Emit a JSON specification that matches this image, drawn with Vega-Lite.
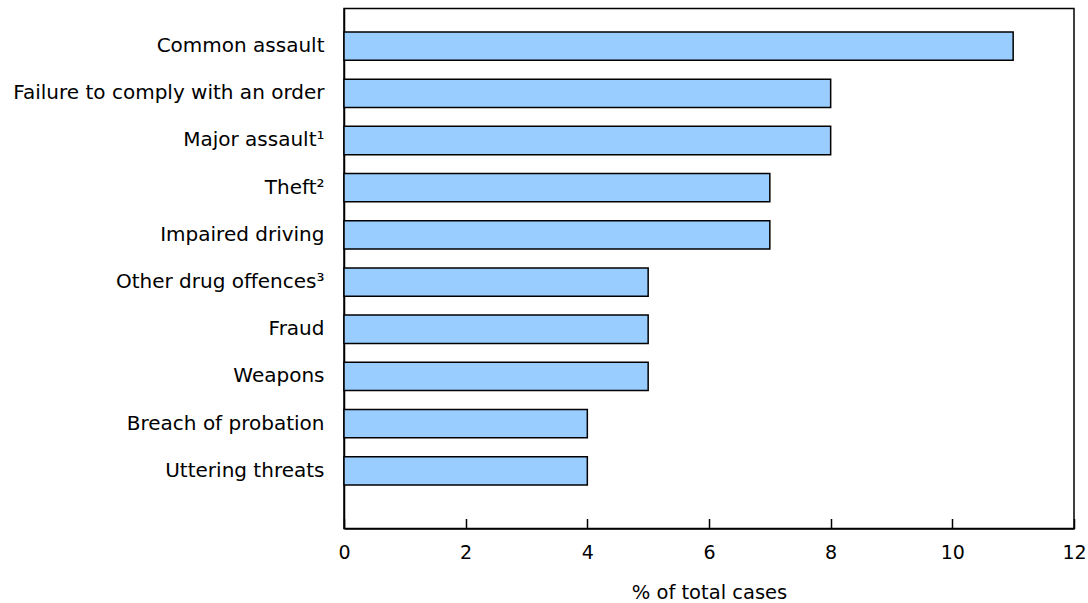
{
  "$schema": "https://vega.github.io/schema/vega-lite/v6.json",
  "autosize": {"type": "none"},
  "padding": {"left": 344, "top": 8.5, "right": 14, "bottom": 74.5},
  "width": 730,
  "height": 520,
  "background": "white",
  "config": {
    "font": "DejaVu Sans",
    "view": {"stroke": "black", "strokeWidth": 1.5},
    "axis": {"grid": false, "labelFont": "DejaVu Sans", "titleFont": "DejaVu Sans", "labelColor": "black", "titleColor": "black", "domainColor": "black", "tickColor": "black"}
  },
  "data": {
    "values": [
      {"offence": "Common assault", "pct": 11},
      {"offence": "Failure to comply with an order", "pct": 8},
      {"offence": "Major assault¹", "pct": 8},
      {"offence": "Theft²", "pct": 7},
      {"offence": "Impaired driving", "pct": 7},
      {"offence": "Other drug offences³", "pct": 5},
      {"offence": "Fraud", "pct": 5},
      {"offence": "Weapons", "pct": 5},
      {"offence": "Breach of probation", "pct": 4},
      {"offence": "Uttering threats", "pct": 4}
    ]
  },
  "mark": {"type": "bar", "fill": "#99CCFF", "stroke": "black", "strokeWidth": 1.5},
  "encoding": {
    "y": {
      "field": "offence", "type": "nominal", "sort": null,
      "scale": {"paddingInner": 0.4, "paddingOuter": 0.71, "align": 0.35},
      "axis": {"title": null, "ticks": false, "labelFontSize": 20, "labelPadding": 20, "domainWidth": 1.5, "labelLimit": 400}
    },
    "x": {
      "field": "pct", "type": "quantitative",
      "scale": {"domain": [0, 12], "nice": false},
      "axis": {"title": "% of total cases", "values": [0, 2, 4, 6, 8, 10, 12], "tickSize": -10, "tickWidth": 1.5, "domainWidth": 1.5, "labelFontSize": 19, "labelPadding": 25, "titleFontSize": 19.5, "titleFontWeight": "normal", "titlePadding": 21, "labelFlush": false}
    }
  }
}
